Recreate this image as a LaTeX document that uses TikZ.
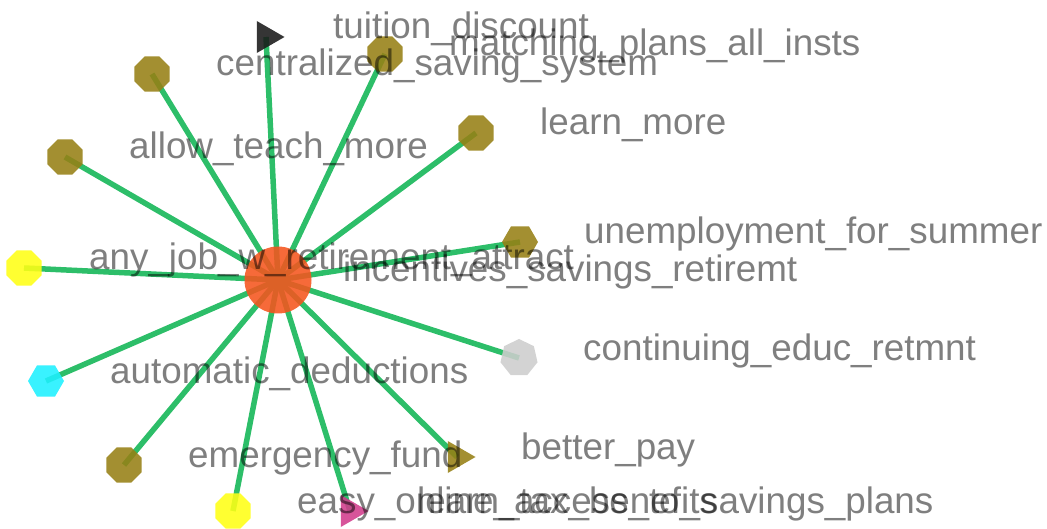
\documentclass[tikz,border=0pt]{standalone}
\usepackage{fontspec}
\setmainfont{Liberation Sans}
\usetikzlibrary{shapes.geometric}
\definecolor{edgegreen}{RGB}{45,190,105}
\definecolor{olivec}{RGB}{150,128,20}
\definecolor{yellowc}{RGB}{255,255,20}
\definecolor{cyanc}{RGB}{30,240,255}
\definecolor{greyc}{RGB}{205,205,205}
\definecolor{pinkc}{RGB}{210,60,140}
\definecolor{blackc}{RGB}{25,25,25}
\definecolor{centerc}{RGB}{245,85,30}
\tikzset{
  vtx/.style={draw=none, fill opacity=0.88, inner sep=0pt, outer sep=0pt},
  octv/.style={vtx, regular polygon, regular polygon sides=8, minimum size=38pt},
  heptv/.style={vtx, regular polygon, regular polygon sides=7, minimum size=38pt},
  hexv/.style={vtx, regular polygon, regular polygon sides=6, minimum size=36pt},
  triv/.style={vtx, regular polygon, regular polygon sides=3, shape border rotate=-90, minimum size=37pt},
  centerv/.style={vtx, circle, minimum size=67pt, fill=centerc},
  edgeline/.style={draw=edgegreen, line width=5.5pt},
  lbl/.style={anchor=base west, inner sep=0pt, text=black, text opacity=0.5,
    font=\fontsize{36.8}{40}\selectfont}
}
\begin{document}
\begin{tikzpicture}[x=1pt,y=-1pt]
\useasboundingbox (0,0) rectangle (1047,529);
% node coordinates
\coordinate (pc) at (278,280);
\coordinate (p1) at (266,37);
\coordinate (p2) at (385,54);
\coordinate (p3) at (152,74);
\coordinate (p4) at (476,133);
\coordinate (p5) at (65,157);
\coordinate (p6) at (520,242);
\coordinate (p7) at (24,268);
\coordinate (p8) at (519,358);
\coordinate (p9) at (46,381);
\coordinate (p10) at (124,465);
\coordinate (p11) at (457,457);
\coordinate (p12) at (233,511);
\coordinate (p13) at (350,511);
% edges
\foreach \i in {1,...,13} \draw[edgeline] (pc) -- (p\i);
% vertices
\node[triv, fill=blackc] (n1) at (p1) {};
\node[octv, fill=olivec] (n2) at (p2) {};
\node[octv, fill=olivec] (n3) at (p3) {};
\node[octv, fill=olivec] (n4) at (p4) {};
\node[octv, fill=olivec] (n5) at (p5) {};
\node[hexv, fill=olivec] (n6) at (p6) {};
\node[octv, fill=yellowc] (n7) at (p7) {};
\node[heptv, fill=greyc] (n8) at (p8) {};
\node[hexv, fill=cyanc] (n9) at (p9) {};
\node[octv, fill=olivec] (n10) at (p10) {};
\node[triv, fill=olivec] (n11) at (p11) {};
\node[octv, fill=yellowc] (n12) at (p12) {};
\node[triv, fill=pinkc] (n13) at (p13) {};
\node[centerv] (nc) at (pc) {};
% labels
\node[lbl] (lc) at ([xshift=65pt,yshift=-2pt]pc) {incentives\_savings\_retiremt};
\node[lbl] (l1) at ([xshift=67pt,yshift=-2pt]p1) {tuition\_discount};
\node[lbl] (l2) at ([xshift=64pt,yshift=-2pt]p2) {matching\_plans\_all\_insts};
\node[lbl] (l3) at ([xshift=64pt,yshift=-2pt]p3) {centralized\_saving\_system};
\node[lbl] (l4) at ([xshift=64pt,yshift=-2pt]p4) {learn\_more};
\node[lbl] (l5) at ([xshift=64pt,yshift=-2pt]p5) {allow\_teach\_more};
\node[lbl] (l6) at ([xshift=64pt,yshift=-2pt]p6) {unemployment\_for\_summer};
\node[lbl] (l7) at ([xshift=65pt,yshift=-2pt]p7) {any\_job\_w\_retirement\_attract};
\node[lbl] (l8) at ([xshift=64pt,yshift=-2pt]p8) {continuing\_educ\_retmnt};
\node[lbl] (l9) at ([xshift=64pt,yshift=-2pt]p9) {automatic\_deductions};
\node[lbl] (l10) at ([xshift=64pt,yshift=-2pt]p10) {emergency\_fund};
\node[lbl] (l11) at ([xshift=64pt,yshift=-2pt]p11) {better\_pay};
\node[lbl] (l12) at ([xshift=64pt,yshift=-2pt]p12) {easy\_online\_access\_to\_savings\_plans};
\node[lbl] (l13) at ([xshift=67pt,yshift=-2pt]p13) {learn\_tax\_benefits};
\end{tikzpicture}
\end{document}
